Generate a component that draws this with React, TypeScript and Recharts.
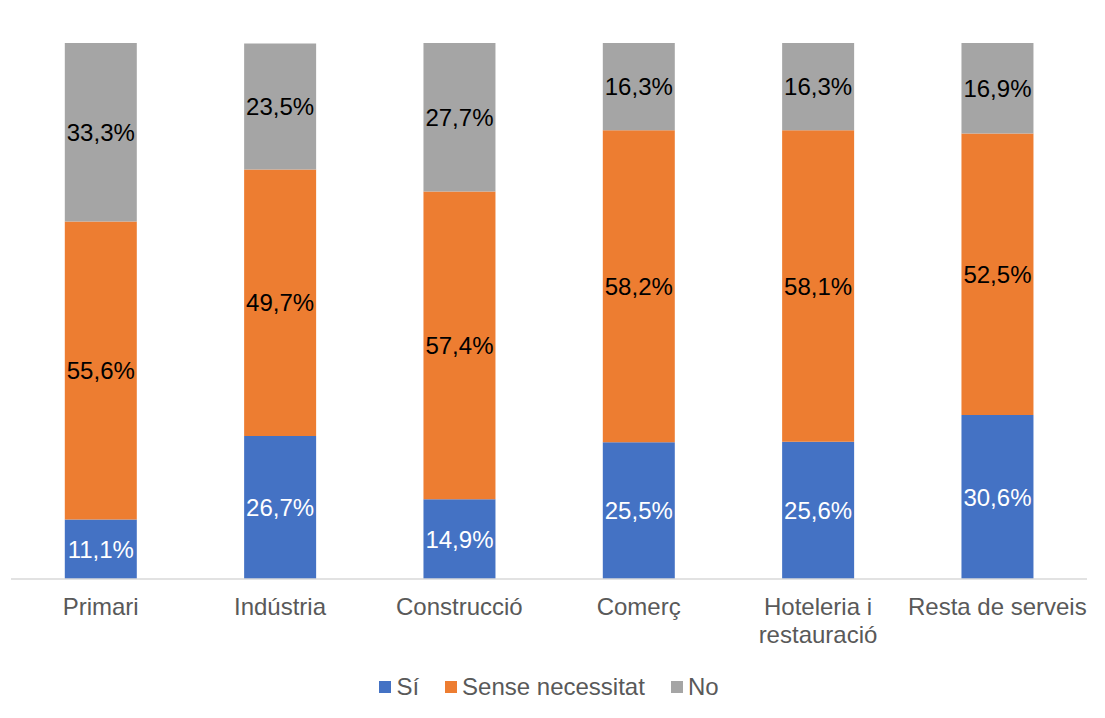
import { BarChart, Bar, XAxis, YAxis, Legend, LabelList } from "recharts";

const categories = [
  "Primari",
  "Indústria",
  "Construcció",
  "Comerç",
  "Hoteleria i\nrestauració",
  "Resta de serveis",
];
const seriesNames = ["Sí", "Sense necessitat", "No"];
const si = [11.1, 26.7, 14.9, 25.5, 25.6, 30.6];
const senseNecessitat = [55.6, 49.7, 57.4, 58.2, 58.1, 52.5];
const no = [33.3, 23.5, 27.7, 16.3, 16.3, 16.9];

const data = categories.map((name, i) => ({
  name,
  si: si[i],
  sense: senseNecessitat[i],
  no: no[i],
}));

const FONT = "'Liberation Sans', Arial, sans-serif";

const fmt = (v: any) => `${Number(v).toFixed(1).replace(".", ",")}%`;

function CategoryTick(props: any) {
  const { x, y, payload } = props;
  const lines = String(payload.value).split("\n");
  return (
    <text
      x={x}
      y={y}
      textAnchor="middle"
      fill="#595959"
      fontSize={24}
      fontFamily={FONT}
    >
      {lines.map((line, i) => (
        <tspan key={i} x={x} dy={28}>
          {line}
        </tspan>
      ))}
    </text>
  );
}

function LegendContent(props: any) {
  const items = [...(props.payload || [])].sort(
    (a: any, b: any) => seriesNames.indexOf(a.value) - seriesNames.indexOf(b.value)
  );
  return (
    <div
      style={{
        display: "flex",
        justifyContent: "center",
        alignItems: "center",
        fontFamily: FONT,
        fontSize: 24,
        color: "#595959",
        height: 30,
      }}
    >
      {items.map((item: any, i: number) => (
        <div
          key={item.value}
          style={{
            display: "flex",
            alignItems: "center",
            marginRight: i < items.length - 1 ? 26 : 0,
          }}
        >
          <span
            style={{
              width: 12,
              height: 12,
              background: item.color,
              display: "inline-block",
              marginRight: 5,
            }}
          />
          <span>{item.value}</span>
        </div>
      ))}
    </div>
  );
}

export default function App() {
  return (
    <div style={{ position: "absolute", left: 0, top: 0 }}>
      <BarChart
        width={1105}
        height={718}
        data={data}
        margin={{ top: 43, right: 18, left: 11, bottom: 49 }}
        barCategoryGap="30%"
      >
        <XAxis
          dataKey="name"
          tick={<CategoryTick />}
          tickLine={false}
          axisLine={{ stroke: "#D9D9D9", strokeWidth: 1.5 }}
          height={60}
          interval={0}
        />
        <YAxis hide domain={[0, 100]} />
        <Legend
          verticalAlign="bottom"
          content={<LegendContent />}
          wrapperStyle={{ top: 672, height: 30 }}
        />
        <Bar dataKey="si" name={seriesNames[0]} stackId="a" fill="#4472C4" isAnimationActive={false}>
          <LabelList
            dataKey="si"
            position="center"
            formatter={fmt}
            fill="#FFFFFF"
            fontSize={24}
            fontFamily={FONT}
          />
        </Bar>
        <Bar
          dataKey="sense"
          name={seriesNames[1]}
          stackId="a"
          fill="#ED7D31"
          isAnimationActive={false}
        >
          <LabelList
            dataKey="sense"
            position="center"
            formatter={fmt}
            fill="#000000"
            fontSize={24}
            fontFamily={FONT}
          />
        </Bar>
        <Bar dataKey="no" name={seriesNames[2]} stackId="a" fill="#A5A5A5" isAnimationActive={false}>
          <LabelList
            dataKey="no"
            position="center"
            formatter={fmt}
            fill="#000000"
            fontSize={24}
            fontFamily={FONT}
          />
        </Bar>
      </BarChart>
    </div>
  );
}
